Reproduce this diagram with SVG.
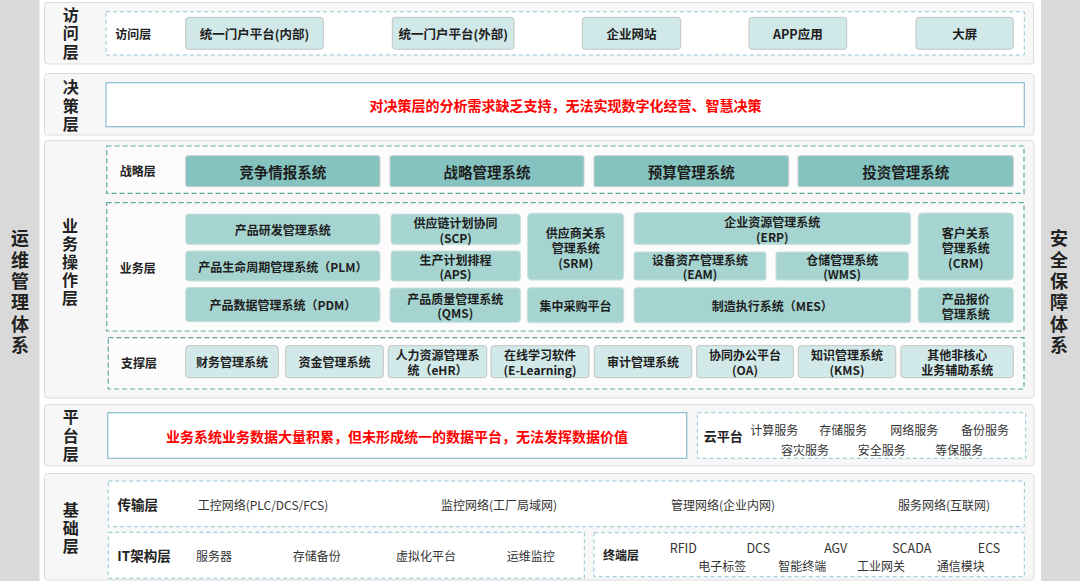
<svg xmlns="http://www.w3.org/2000/svg" width="1080" height="581" viewBox="0 0 1080 581">
<style>
text{font-family:"Noto Sans CJK SC","Noto Sans",sans-serif;dominant-baseline:central;text-anchor:middle;fill:#1e1e1e}
.band{fill:#d9d9d9}
.panel{fill:#f7f7f7;stroke:#dcdcdc;stroke-width:1}
.dash-b{fill:#fff;stroke:#93c3d5;stroke-width:1;stroke-dasharray:4 3}
.dash-t{fill:#fcfcfc;stroke:#5ba8a3;stroke-width:1.2;stroke-dasharray:5 3}
.red-box{fill:#fff;stroke:#8bbbd1;stroke-width:1.2}
.v-box{fill:#d1e8e8;stroke:#c4c4c4;stroke-width:1}
.s-box{fill:#84c3bf;stroke:#cdcdcd;stroke-width:1}
.b-box{fill:#a6d5d1;stroke:#c9dedc;stroke-width:1}
.u-box{fill:#d2e9e9;stroke:#c4c4c4;stroke-width:1}
.vt{font-size:16px;font-weight:700;fill:#222;writing-mode:vertical-rl;letter-spacing:2.3px}
.vt5{font-size:16px;font-weight:700;fill:#222;writing-mode:vertical-rl;letter-spacing:2px}
.side{font-size:18px;font-weight:700;fill:#222;writing-mode:vertical-rl;letter-spacing:3.4px}
.lbl{font-size:12px;font-weight:700;fill:#222}
.lbl2{font-size:13.5px;font-weight:700;fill:#222}
.vtx{font-size:12.5px;font-weight:700}
.stx{font-size:14.5px;font-weight:700}
.btx{font-size:12px;font-weight:700}
.red{font-size:14px;font-weight:700;fill:#ff0000}
.nt{font-size:12px;fill:#333}
.nt2{font-size:12.5px;fill:#333}
</style>

<g id="bands">
<rect class="band" x="0" y="0" width="39.5" height="581"/>
<rect class="band" x="1041" y="0" width="39" height="581"/>
<text class="side" x="20" y="293.5">运维管理体系</text>
<text class="side" x="1059" y="293.5">安全保障体系</text>
</g>

<g id="layer-visit">
<rect class="panel" x="44.5" y="2.5" width="989" height="61.5" rx="3"/>
<text class="vt" x="70.7" y="34.5">访问层</text>
<rect class="dash-b" x="106" y="11.7" width="918.3" height="43.3"/>
<text class="lbl" x="133.3" y="33.3">访问层</text>
<g id="n-portal-in"><rect class="v-box" x="185.7" y="17.3" width="137.6" height="32" rx="3"/><text class="vtx" x="254.5" y="33.3">统一门户平台(内部)</text></g>
<g id="n-portal-out"><rect class="v-box" x="392.3" y="17.3" width="121.7" height="32" rx="3"/><text class="vtx" x="453.2" y="33.3">统一门户平台(外部)</text></g>
<g id="n-website"><rect class="v-box" x="582.3" y="17.3" width="98.4" height="32" rx="3"/><text class="vtx" x="631.5" y="33.3">企业网站</text></g>
<g id="n-app"><rect class="v-box" x="749" y="17.3" width="97.7" height="32" rx="3"/><text class="vtx" x="797.8" y="33.3">APP应用</text></g>
<g id="n-screen"><rect class="v-box" x="916" y="17.3" width="97.3" height="32" rx="3"/><text class="vtx" x="964.7" y="33.3">大屏</text></g>
</g>

<g id="layer-decision">
<rect class="panel" x="44.5" y="73.5" width="989.5" height="61.5" rx="3"/>
<text class="vt" x="70.7" y="106.8">决策层</text>
<rect class="red-box" x="106" y="82.7" width="918.3" height="44"/>
<text class="red" x="565.5" y="104.7">对决策层的分析需求缺乏支持，无法实现数字化经营、智慧决策</text>
</g>

<g id="layer-business">
<rect class="panel" x="44.5" y="140.5" width="989.5" height="257.5" rx="3"/>
<text class="vt5" x="70" y="263">业务操作层</text>

<rect class="dash-t" x="106.7" y="146" width="917.3" height="47.3"/>
<text class="lbl" x="137.7" y="170.5">战略层</text>
<g id="n-compete"><rect class="s-box" x="185.7" y="155.7" width="194.3" height="31" rx="2"/><text class="stx" x="282.8" y="171">竞争情报系统</text></g>
<g id="n-strategy"><rect class="s-box" x="390" y="155.7" width="194" height="31" rx="2"/><text class="stx" x="487" y="171">战略管理系统</text></g>
<g id="n-budget"><rect class="s-box" x="594" y="155.7" width="194.7" height="31" rx="2"/><text class="stx" x="691.3" y="171">预算管理系统</text></g>
<g id="n-invest"><rect class="s-box" x="798" y="155.7" width="215.3" height="31" rx="2"/><text class="stx" x="905.7" y="171">投资管理系统</text></g>

<rect class="dash-t" x="106.7" y="202.7" width="917.3" height="128.3"/>
<text class="lbl" x="137.7" y="267.7">业务层</text>
<g id="n-rd"><rect class="b-box" x="185.7" y="214" width="194.3" height="30.3" rx="3"/><text class="btx" x="282.8" y="229.2">产品研发管理系统</text></g>
<g id="n-plm"><rect class="b-box" x="185.7" y="251" width="194.3" height="30" rx="3"/><text class="btx" x="282.8" y="266">产品生命周期管理系统（PLM）</text></g>
<g id="n-pdm"><rect class="b-box" x="185.7" y="287.5" width="194.3" height="34.2" rx="3"/><text class="btx" x="282.8" y="304.6">产品数据管理系统（PDM）</text></g>
<g id="n-scp"><rect class="b-box" x="391" y="214" width="129.3" height="30.3" rx="3"/><text class="btx"><tspan x="455.6" y="222.2">供应链计划协同</tspan><tspan x="455.6" y="236.6">(SCP)</tspan></text></g>
<g id="n-aps"><rect class="b-box" x="391" y="251" width="129.3" height="30" rx="3"/><text class="btx"><tspan x="455.6" y="258.6">生产计划排程</tspan><tspan x="455.6" y="273">(APS)</tspan></text></g>
<g id="n-qms"><rect class="b-box" x="390" y="288" width="130.3" height="34.3" rx="3"/><text class="btx"><tspan x="455.2" y="297.6">产品质量管理系统</tspan><tspan x="455.2" y="312.4">(QMS)</tspan></text></g>
<g id="n-srm"><rect class="b-box" x="527.7" y="213.3" width="96" height="66.7" rx="4"/><text class="btx"><tspan x="575.7" y="232.3">供应商关系</tspan><tspan x="575.7" y="247">管理系统</tspan><tspan x="575.7" y="261.7">(SRM)</tspan></text></g>
<g id="n-purchase"><rect class="b-box" x="527.3" y="287.7" width="96.4" height="35" rx="3"/><text class="btx" x="575.5" y="305">集中采购平台</text></g>
<g id="n-erp"><rect class="b-box" x="634" y="212.7" width="276.7" height="31.6" rx="3"/><text class="btx"><tspan x="772.3" y="221">企业资源管理系统</tspan><tspan x="772.3" y="235.7">(ERP)</tspan></text></g>
<g id="n-eam"><rect class="b-box" x="634" y="252" width="132" height="28" rx="2"/><text class="btx"><tspan x="700" y="258.6">设备资产管理系统</tspan><tspan x="700" y="273.3">(EAM)</tspan></text></g>
<g id="n-wms"><rect class="b-box" x="776" y="252" width="132.3" height="28" rx="2"/><text class="btx"><tspan x="842.2" y="258.6">仓储管理系统</tspan><tspan x="842.2" y="273.3">(WMS)</tspan></text></g>
<g id="n-mes"><rect class="b-box" x="634" y="287.7" width="276.7" height="35" rx="3"/><text class="btx" x="772.3" y="305">制造执行系统（MES）</text></g>
<g id="n-crm"><rect class="b-box" x="918.3" y="213" width="95" height="67" rx="4"/><text class="btx"><tspan x="965.8" y="232.3">客户关系</tspan><tspan x="965.8" y="247">管理系统</tspan><tspan x="965.8" y="261.7">(CRM)</tspan></text></g>
<g id="n-quote"><rect class="b-box" x="918.3" y="287.7" width="95" height="35" rx="3"/><text class="btx"><tspan x="965.8" y="298.2">产品报价</tspan><tspan x="965.8" y="312.5">管理系统</tspan></text></g>

<rect class="dash-t" x="108.3" y="337.7" width="915.7" height="51.3"/>
<text class="lbl" x="139" y="362.7">支撑层</text>
<g id="n-finance"><rect class="u-box" x="185.7" y="345.7" width="92.6" height="32" rx="3"/><text class="btx" x="232" y="361.7">财务管理系统</text></g>
<g id="n-fund"><rect class="u-box" x="285.7" y="345.7" width="97.6" height="32" rx="3"/><text class="btx" x="334.5" y="361.7">资金管理系统</text></g>
<g id="n-ehr"><rect class="u-box" x="388.3" y="345.7" width="98.4" height="32" rx="3"/><text class="btx"><tspan x="437.5" y="353.5">人力资源管理系</tspan><tspan x="437.5" y="369.3">统（eHR）</tspan></text></g>
<g id="n-elearn"><rect class="u-box" x="491" y="345.7" width="98" height="32" rx="3"/><text class="btx"><tspan x="540" y="353.5">在线学习软件</tspan><tspan x="540" y="369.3">(E-Learning)</tspan></text></g>
<g id="n-audit"><rect class="u-box" x="594.3" y="345.7" width="97.4" height="32" rx="3"/><text class="btx" x="643" y="361.7">审计管理系统</text></g>
<g id="n-oa"><rect class="u-box" x="696.7" y="345.7" width="96.6" height="32" rx="3"/><text class="btx"><tspan x="745" y="353.5">协同办公平台</tspan><tspan x="745" y="369.3">(OA)</tspan></text></g>
<g id="n-kms"><rect class="u-box" x="798.3" y="345.7" width="97.4" height="32" rx="3"/><text class="btx"><tspan x="847" y="353.5">知识管理系统</tspan><tspan x="847" y="369.3">(KMS)</tspan></text></g>
<g id="n-other"><rect class="u-box" x="901" y="345.7" width="112.3" height="32" rx="3"/><text class="btx"><tspan x="957.2" y="353.5">其他非核心</tspan><tspan x="957.2" y="369.3">业务辅助系统</tspan></text></g>
</g>

<g id="layer-platform">
<rect class="panel" x="44.5" y="404.5" width="989.5" height="61.5" rx="3"/>
<text class="vt" x="70.7" y="436.7">平台层</text>
<rect class="red-box" x="107.7" y="412.7" width="579" height="45.6"/>
<text class="red" x="397" y="435.5">业务系统业务数据大量积累，但未形成统一的数据平台，无法发挥数据价值</text>
<g id="n-cloud">
<rect class="dash-b" x="697.3" y="412.7" width="328.4" height="45.6"/>
<text class="lbl2" x="723.3" y="435.7" style="font-size:13px">云平台</text>
<text class="nt"><tspan x="774.3" y="429.3">计算服务</tspan><tspan x="843.3" y="429.3">存储服务</tspan><tspan x="914.3" y="429.3">网络服务</tspan><tspan x="985" y="429.3">备份服务</tspan></text>
<text class="nt"><tspan x="805" y="449">容灾服务</tspan><tspan x="881.7" y="449">安全服务</tspan><tspan x="959.3" y="449">等保服务</tspan></text>
</g>
</g>

<g id="layer-basic">
<rect class="panel" x="44.5" y="473.5" width="989.5" height="106.5" rx="3"/>
<text class="vt" x="70.7" y="529.2">基础层</text>
<g id="n-transport">
<rect class="dash-b" x="108.3" y="481" width="916" height="45.7"/>
<text class="lbl2" x="137.7" y="504.3">传输层</text>
<text class="nt"><tspan x="263" y="504.3">工控网络(PLC/DCS/FCS)</tspan><tspan x="499" y="504.3">监控网络(工厂局域网)</tspan><tspan x="723" y="504.3">管理网络(企业内网)</tspan><tspan x="944" y="504.3">服务网络(互联网)</tspan></text>
</g>
<g id="n-it">
<rect class="dash-b" x="108.3" y="532.3" width="476" height="46"/>
<text class="lbl2" x="144" y="555">IT架构层</text>
<text class="nt"><tspan x="214" y="555">服务器</tspan><tspan x="316.7" y="555">存储备份</tspan><tspan x="426" y="555">虚拟化平台</tspan><tspan x="530.7" y="555">运维监控</tspan></text>
</g>
<g id="n-terminal">
<rect class="dash-b" x="594" y="532.7" width="430.3" height="44"/>
<text class="lbl" x="621" y="554.3">终端层</text>
<text class="nt2"><tspan x="683.3" y="547.3">RFID</tspan><tspan x="758.3" y="547.3">DCS</tspan><tspan x="835.7" y="547.3">AGV</tspan><tspan x="911.7" y="547.3">SCADA</tspan><tspan x="989" y="547.3">ECS</tspan></text>
<text class="nt"><tspan x="722.3" y="565">电子标签</tspan><tspan x="802.3" y="565">智能终端</tspan><tspan x="881" y="565">工业网关</tspan><tspan x="960.7" y="565">通信模块</tspan></text>
</g>
</g>

<g id="connectors"></g>
</svg>
